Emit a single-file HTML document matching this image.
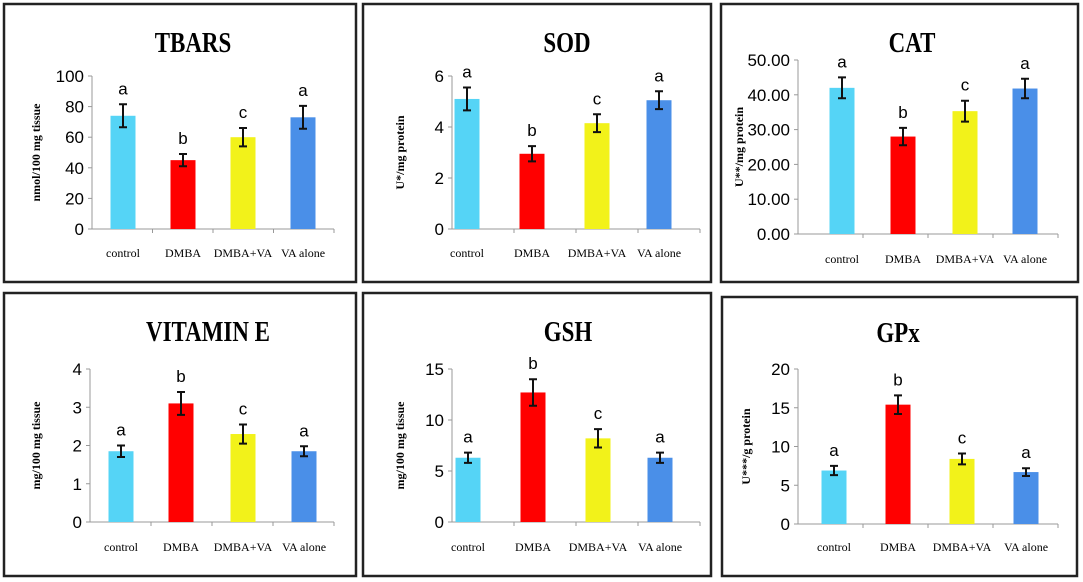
<!DOCTYPE html>
<html><head><meta charset="utf-8"><style>
html,body{margin:0;padding:0;background:#fff;width:1083px;height:582px;overflow:hidden}
</style></head><body>
<svg id="s" width="1083" height="582" xmlns="http://www.w3.org/2000/svg"></svg>
<script>
const S=document.getElementById('s');let h='';
const cols=['#55d4f6','#ff0000','#f2f21a','#4a8fe8'];
const cats=['control','DMBA','DMBA+VA','VA alone'];
const P=[
{box:[4,4,352,278],title:'TBARS',tx:193,ty:42,ax:92,ae:334,y0:229,y1:76,max:100,ticks:[0,20,40,60,80,100],dec:0,yl:'nmol/100 mg tissue',ylx:40,centers:[123,183,243,303],v:[74,45,60,73],e:[7.5,4,6,7.5],L:['a','b','c','a'],cy:253},
{box:[363,4,348,278],title:'SOD',tx:567,ty:42,ax:452,ae:700,y0:229,y1:76,max:6,ticks:[0,2,4,6],dec:0,yl:'U*/mg protein',ylx:404,centers:[467,532,597,659],v:[5.1,2.95,4.15,5.05],e:[0.45,0.3,0.35,0.35],L:['a','b','c','a'],cy:253},
{box:[721,4,357,278],title:'CAT',tx:912,ty:42,ax:798,ae:1058,y0:234,y1:60,max:50,ticks:[0,10,20,30,40,50],dec:2,yl:'U**/mg protein',ylx:743,centers:[842,903,965,1025],v:[42,28,35.3,41.8],e:[3,2.5,3,2.8],L:['a','b','c','a'],cy:259},
{box:[4,293,352,283],title:'VITAMIN E',tx:208,ty:331,ax:90,ae:334,y0:522,y1:369,max:4,ticks:[0,1,2,3,4],dec:0,yl:'mg/100 mg tissue',ylx:40,centers:[121,181,243,304],v:[1.85,3.1,2.3,1.85],e:[0.15,0.3,0.25,0.13],L:['a','b','c','a'],cy:547},
{box:[363,293,348,283],title:'GSH',tx:568,ty:331,ax:452,ae:700,y0:522,y1:369,max:15,ticks:[0,5,10,15],dec:0,yl:'mg/100 mg tissue',ylx:404,centers:[468,533,598,660],v:[6.3,12.7,8.2,6.3],e:[0.5,1.3,0.9,0.5],L:['a','b','c','a'],cy:547},
{box:[722,297,355,279],title:'GPx',tx:898,ty:332,ax:798,ae:1058,y0:524,y1:369,max:20,ticks:[0,5,10,15,20],dec:0,yl:'U***/g protein',ylx:750,centers:[834,898,962,1026],v:[6.9,15.4,8.4,6.7],e:[0.6,1.2,0.7,0.5],L:['a','b','c','a'],cy:547}
];
for(const p of P){
 const [bx,by,bw,bh]=p.box;
 h+=`<rect x="${bx}" y="${by}" width="${bw}" height="${bh}" fill="#fff" stroke="#222" stroke-width="2.5"/>`;
 h+=`<text transform="translate(${p.tx},${p.ty+10}) scale(0.82,1)" text-anchor="middle" font-family="Liberation Serif" font-weight="bold" font-size="28">${p.title}</text>`;
 const Y=v=>p.y0-(p.y0-p.y1)*v/p.max;
 h+=`<line x1="${p.ax}" y1="${p.y1}" x2="${p.ax}" y2="${p.y0}" stroke="#999" stroke-width="1"/>`;
 h+=`<line x1="${p.ax}" y1="${p.y0}" x2="${p.ae}" y2="${p.y0}" stroke="#999" stroke-width="1"/>`;
 for(const t of p.ticks){const y=Y(t);
  h+=`<line x1="${p.ax-4}" y1="${y}" x2="${p.ax}" y2="${y}" stroke="#999"/>`;
  h+=`<text x="${p.ax-8}" y="${y+6}" text-anchor="end" font-family="Liberation Sans" font-size="17">${t.toFixed(p.dec)}</text>`;}
 const step=(p.ae-p.ax)/4;
 for(let i=1;i<=4;i++){const x=p.ax+step*i;h+=`<line x1="${x}" y1="${p.y0}" x2="${x}" y2="${p.y0+4}" stroke="#999"/>`;}
 const ymid=(p.y0+p.y1)/2;
 h+=`<text transform="translate(${p.ylx},${ymid}) rotate(-90)" text-anchor="middle" font-family="Liberation Serif" font-weight="bold" font-size="12">${p.yl}</text>`;
 for(let i=0;i<4;i++){const c=p.centers[i],top=Y(p.v[i]);
  h+=`<rect x="${c-12.5}" y="${top}" width="25" height="${p.y0-top}" fill="${cols[i]}"/>`;
  const a=Y(p.v[i]+p.e[i]),b=Y(p.v[i]-p.e[i]);
  h+=`<path d="M${c} ${a}V${b}M${c-4} ${a}H${c+4}M${c-4} ${b}H${c+4}" stroke="#111" stroke-width="2"/>`;
  h+=`<text x="${c}" y="${a-10}" text-anchor="middle" font-family="Liberation Sans" font-size="17">${p.L[i]}</text>`;
  h+=`<text x="${c}" y="${p.cy+4}" text-anchor="middle" font-family="Liberation Serif" font-size="12">${cats[i]}</text>`;}
}
S.innerHTML=h;
</script>
</body></html>
